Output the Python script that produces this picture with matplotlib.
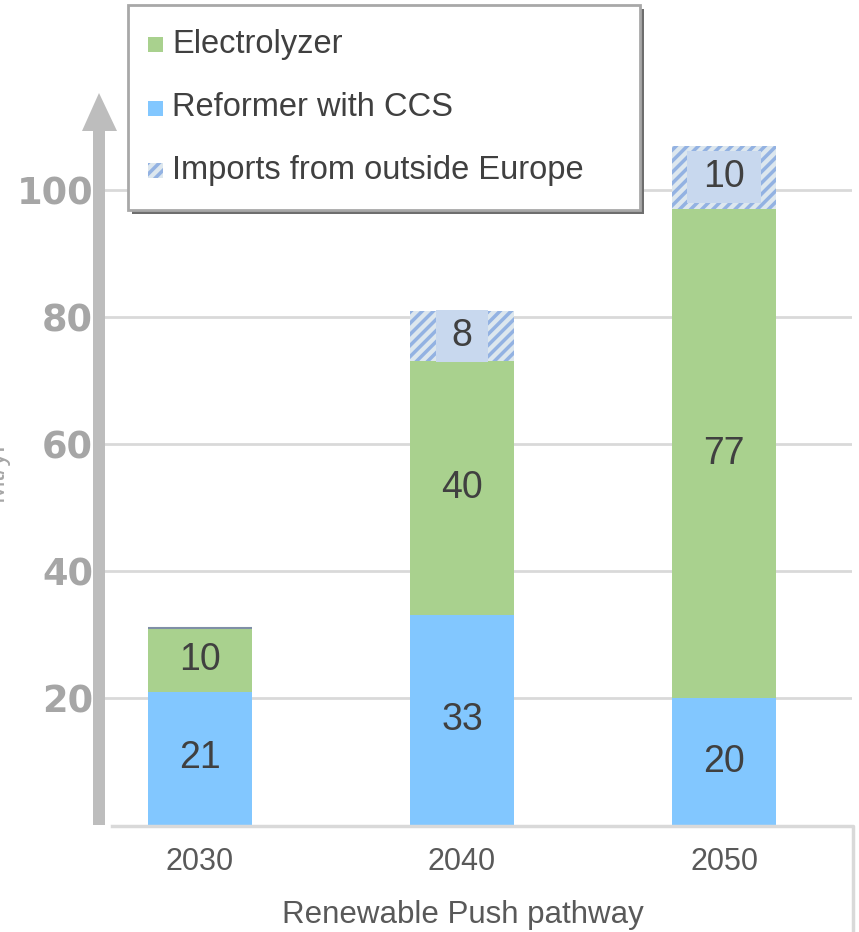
import matplotlib.pyplot as plt
from matplotlib.patches import Polygon, Rectangle
from matplotlib.lines import Line2D

years = ["2030", "2040", "2050"]
reformer = [21, 33, 20]
electrolyzer = [10, 40, 77]
imports = [0, 8, 10]
series_names = ["Electrolyzer", "Reformer with CCS", "Imports from outside Europe"]
y_ticks = [20, 40, 60, 80, 100]
x_title = "Renewable Push pathway"

W, H = 859, 932
BLUE = "#82c7ff"
GREEN = "#a9d18e"
HATCH_BG = "#dde7ee"
HATCH_FG = "#93b2e2"
LABEL_BOX = "#c8d8ee"
TXT = "#404040"
GRID = "#d9d9d9"
ARROW = "#bdbdbd"

plt.rcParams["hatch.linewidth"] = 2.5
plt.rcParams["font.family"] = ["Liberation Sans", "DejaVu Sans"]

fig = plt.figure(figsize=(W / 100, H / 100), dpi=100)


def fx(px):
    return px / W


def fy(py):
    return 1 - py / H


# axes: value 0 sits at y=825 px, 6.35 px per unit, top edge at y=0
ax_left, ax_right, ax_bottom = 100, 852, 825
ax = fig.add_axes([fx(ax_left), fy(ax_bottom), fx(ax_right - ax_left), ax_bottom / H])
ax.set_ylim(0, ax_bottom / 6.35)
ax.set_xlim(-100 / 262, 652 / 262)

x = list(range(len(years)))
width = 104 / 262
ax.bar(x, reformer, width, color=BLUE, zorder=2)
ax.bar(x, electrolyzer, width, bottom=reformer, color=GREEN, zorder=2)
base2 = [r + e for r, e in zip(reformer, electrolyzer)]
ax.bar(x, imports, width, bottom=base2, facecolor=HATCH_BG, edgecolor=HATCH_FG,
       hatch="///", linewidth=0, zorder=2)
# thin cap on the 2030 stack
ax.hlines(base2[0], -width / 2, width / 2, color="#7f8fa6", linewidth=1.5, zorder=3)

for i in x:
    ax.text(i, reformer[i] / 2, str(reformer[i]), ha="center", va="center",
            fontsize=27, color=TXT, zorder=4)
    ax.text(i, reformer[i] + electrolyzer[i] / 2, str(electrolyzer[i]), ha="center",
            va="center", fontsize=27, color=TXT, zorder=4)
    if imports[i]:
        ax.text(i, base2[i] + imports[i] / 2, str(imports[i]), ha="center", va="center",
                fontsize=27, color=TXT, zorder=4,
                bbox=dict(boxstyle="square,pad=0.42", mutation_aspect=0.5,
                          facecolor=LABEL_BOX, edgecolor="none"))

ax.set_yticks(y_ticks)
ax.set_yticklabels([str(t) for t in y_ticks], fontsize=26.5, fontweight="bold",
                   color="#a6a6a6", family="DejaVu Sans")
ax.tick_params(axis="y", length=0, pad=5)
ax.set_xticks([])
ax.grid(axis="y", color=GRID, linewidth=2, zorder=0)
for s in ax.spines.values():
    s.set_visible(False)

# category labels and pathway title below the axis
for i, yr in enumerate(years):
    ax.text(i, -37 / 6.35, yr, ha="center", va="center", fontsize=22, color="#595959",
            clip_on=False)
fig.text(fx(463), fy(915), x_title, ha="center", va="center", fontsize=22.5,
         color="#595959")

# frame around the category area
fig.add_artist(Line2D([fx(112), fx(853), fx(853)], [fy(826), fy(826), fy(935)],
                      color=GRID, linewidth=2.5))

# vertical arrow along the value axis
arrow = [(93, 825), (105, 825), (105, 131), (117, 131), (99, 93), (82, 131), (93, 131)]
fig.add_artist(Polygon([(fx(a), fy(b)) for a, b in arrow], closed=True,
                       facecolor=ARROW, edgecolor="none"))

# partially visible axis title at the left edge
fig.text(fx(9), fy(470), "Mt/yr", rotation=90, ha="right", va="center",
         fontsize=20, color="#a6a6a6")

# legend box with drop shadow
lx0, ly0, lx1, ly1 = 128, 5, 640, 210
fig.add_artist(Rectangle((fx(lx0 + 4), fy(ly1 + 4)), fx(lx1 - lx0), (ly1 - ly0) / H,
                         facecolor="#6e6e6e", edgecolor="none"))
fig.add_artist(Rectangle((fx(lx0), fy(ly1)), fx(lx1 - lx0), (ly1 - ly0) / H,
                         facecolor="white", edgecolor="#a8a8a8", linewidth=2))
rows = [44, 108, 170]
for name, row, kind in zip(series_names, rows, ["green", "blue", "hatch"]):
    if kind == "hatch":
        sq = Rectangle((fx(148), fy(row + 8)), fx(15), 15 / H, facecolor=HATCH_BG,
                       edgecolor=HATCH_FG, hatch="///", linewidth=0)
    else:
        sq = Rectangle((fx(148), fy(row + 8)), fx(15), 15 / H,
                       facecolor=GREEN if kind == "green" else BLUE, edgecolor="none")
    fig.add_artist(sq)
    fig.text(fx(172), fy(row), name, ha="left", va="center", fontsize=23.5, color=TXT)

fig.savefig("out.png", dpi=100)
